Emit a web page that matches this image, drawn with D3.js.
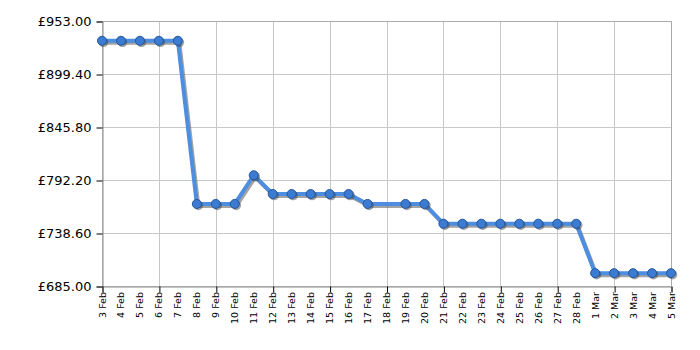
<!DOCTYPE html>
<html>
<head>
<meta charset="utf-8">
<script src="https://cdn.jsdelivr.net/npm/d3@7"></script>
<style>
  body { margin: 0; background: #fff; }
  text { font-family: "DejaVu Sans", Verdana, sans-serif; }
</style>
</head>
<body>
<script>
const days = ['3 Feb', '4 Feb', '5 Feb', '6 Feb', '7 Feb', '8 Feb', '9 Feb', '10 Feb', '11 Feb', '12 Feb',
    '13 Feb', '14 Feb', '15 Feb', '16 Feb', '17 Feb', '18 Feb', '19 Feb', '20 Feb', '21 Feb', '22 Feb',
    '23 Feb', '24 Feb', '25 Feb', '26 Feb', '27 Feb', '28 Feb', '1 Mar', '2 Mar', '3 Mar', '4 Mar', '5 Mar']

// 18 Feb has no price
const prices = [933, 933, 933, 933, 933, 768, 768, 768, 797, 778,
    778, 778, 778, 778, 768, null, 768, 768, 748, 748,
    748, 748, 748, 748, 748, 748, 698, 698, 698, 698, 698]

const yTicks = [685, 738.6, 792.2, 845.8, 899.4, 953]
const gridDays = ['3 Feb', '6 Feb', '9 Feb', '12 Feb', '15 Feb', '18 Feb', '21 Feb', '24 Feb', '27 Feb', '2 Mar', '5 Mar']

const w = 700
const h = 350
const m = { top: 21, right: 29, bottom: 64, left: 102 }

const svg = d3.select('body')
    .append('svg')
    .attr('width', w)
    .attr('height', h)

const x = d3.scalePoint()
    .domain(days)
    .range([m.left, w - m.right])

const y = d3.scaleLinear()
    .domain([685, 953])
    .range([h - m.bottom, m.top])

// grid
svg.append('g')
    .selectAll('line')
    .data(yTicks)
    .join('line')
    .attr('x1', m.left)
    .attr('x2', w - m.right)
    .attr('y1', d => y(d) + 0.5)
    .attr('y2', d => y(d) + 0.5)
    .attr('stroke', '#c8c8c8')

svg.append('g')
    .selectAll('line')
    .data(gridDays)
    .join('line')
    .attr('x1', d => Math.round(x(d)) + 0.5)
    .attr('x2', d => Math.round(x(d)) + 0.5)
    .attr('y1', m.top)
    .attr('y2', h - m.bottom)
    .attr('stroke', '#c8c8c8')

// frame top / right
svg.append('path')
    .attr('d', `M${m.left},${m.top + 0.5}H${Math.round(w - m.right) + 0.5}V${h - m.bottom}`)
    .attr('fill', 'none')
    .attr('stroke', '#aaa')

const yAxis = d3.axisLeft(y)
    .tickValues(yTicks)
    .tickFormat(d => '£' + d3.format('.2f')(d))
    .tickSize(6)
    .tickPadding(5)

const yg = svg.append('g')
    .attr('transform', `translate(${m.left + 0.5}, 0.5)`)
    .call(yAxis)
yg.select('.domain').attr('stroke', '#888')
yg.selectAll('.tick line').attr('stroke', '#000')
yg.selectAll('text')
    .attr('font-size', 13)
    .attr('fill', '#000')
    .attr('font-family', '"DejaVu Sans", Verdana, sans-serif')

const xAxis = d3.axisBottom(x)
    .tickValues(gridDays)
    .tickSize(6)
    .tickFormat('')

const xg = svg.append('g')
    .attr('transform', `translate(0.5, ${h - m.bottom + 0.5})`)
    .call(xAxis)
xg.select('.domain').attr('stroke', '#888')
xg.selectAll('.tick line').attr('stroke', '#000')

svg.append('g')
    .selectAll('text')
    .data(days)
    .join('text')
    .attr('transform', d => `translate(${x(d) + 3.5}, ${h - m.bottom + 6}) rotate(-90)`)
    .attr('text-anchor', 'end')
    .attr('font-size', 9.5)
    .attr('fill', '#000')
    .text(d => d)

const pts = days.map((d, i) => ({ day: d, price: prices[i] }))
    .filter(d => d.price !== null)

const line = d3.line()
    .x(d => x(d.day))
    .y(d => y(d.price))

// shadow
svg.append('path')
    .datum(pts)
    .attr('d', line)
    .attr('transform', 'translate(1.5, 2)')
    .attr('fill', 'none')
    .attr('stroke', '#666')
    .attr('stroke-opacity', 0.6)
    .attr('stroke-width', 4)

svg.append('path')
    .datum(pts)
    .attr('d', line)
    .attr('fill', 'none')
    .attr('stroke', '#4d8ee0')
    .attr('stroke-width', 4)
    .attr('stroke-linejoin', 'round')

svg.append('g')
    .selectAll('circle')
    .data(pts)
    .join('circle')
    .attr('cx', d => x(d.day) + 1.5)
    .attr('cy', d => y(d.price) + 1.5)
    .attr('r', 4.8)
    .attr('fill', '#444')
    .attr('fill-opacity', 0.5)

svg.append('g')
    .selectAll('circle')
    .data(pts)
    .join('circle')
    .attr('cx', d => x(d.day))
    .attr('cy', d => y(d.price))
    .attr('r', 4.5)
    .attr('fill', '#3c7bd2')
    .attr('stroke', '#24569c')
    .attr('stroke-width', 1)
</script>
</body>
</html>
